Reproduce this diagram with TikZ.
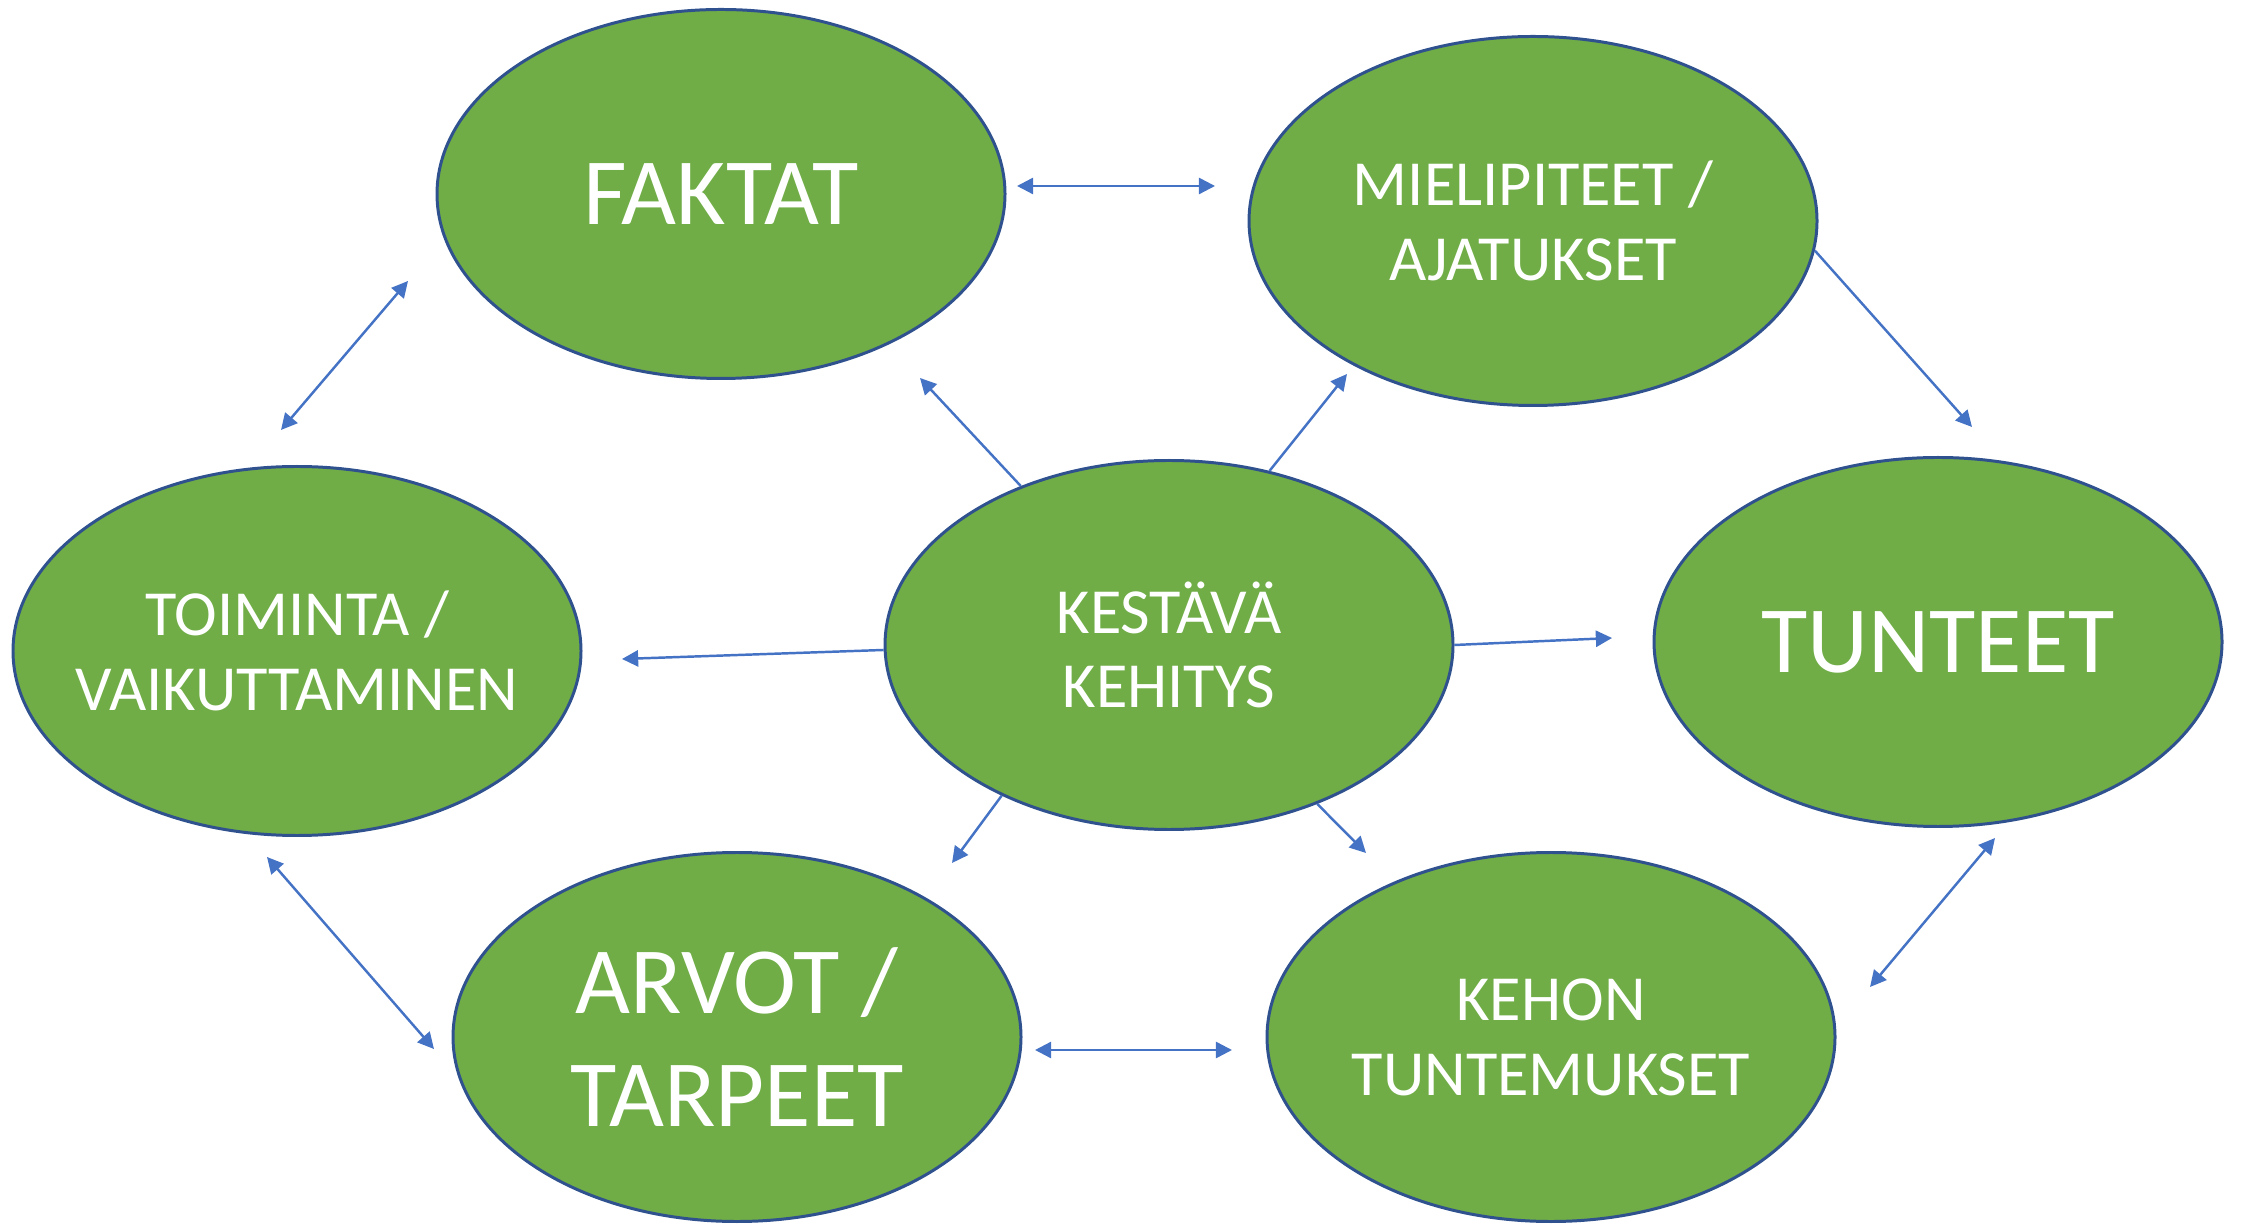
\documentclass[tikz,border=0pt]{standalone}
\usepackage{fontspec}
\setmainfont{Carlito}
\usetikzlibrary{arrows.meta,shapes.geometric}

\definecolor{ovalgreen}{HTML}{70AD47}
\definecolor{ovalline}{HTML}{2F528F}
\definecolor{linkblue}{HTML}{4472C4}

\begin{document}
\begin{tikzpicture}[
        oval/.style={ellipse, draw=ovalline, line width=0.85pt, fill=ovalgreen, text=white,
            minimum width=5.68cm, minimum height=3.69cm, inner xsep=-1.2cm, inner ysep=0pt,
            align=center},
        bigtext/.style={font=\fontsize{27}{32}\selectfont},
        smalltext/.style={font=\fontsize{18.3}{21.3}\selectfont},
        link/.style={draw=linkblue, line width=0.7pt},
        >={Triangle[length=4.6pt,width=4.6pt]}
    ]

            \useasboundingbox (0,0) rectangle (22.47,12.24);

            \node [oval, bigtext] (faktat) at (7.21,10.30) {FAKTAT};
            \node [oval, smalltext] (mielipiteet) at (15.33,10.03) {MIELIPITEET /\\AJATUKSET};
            \node [oval, smalltext] (toiminta) at (2.97,5.73) {TOIMINTA /\\VAIKUTTAMINEN};
            \node [oval, smalltext] (kestava) at (11.69,5.79) {KESTÄVÄ\\KEHITYS};
            \node [oval, bigtext] (tunteet) at (19.38,5.82) {TUNTEET};
            \node [oval, bigtext] (arvot) at (7.37,1.87) {ARVOT /\\TARPEET};
            \node [oval, smalltext] (kehon) at (15.51,1.87) {KEHON\\TUNTEMUKSET};

            \coordinate (f-m) at (10.17,10.38);
            \coordinate (m-f) at (12.15,10.38);
            \coordinate (m-t) at (19.72,7.97);
            \coordinate (t-kh) at (19.95,3.86);
            \coordinate (kh-t) at (18.70,2.37);
            \coordinate (a-kh) at (10.35,1.74);
            \coordinate (kh-a) at (12.32,1.74);
            \coordinate (to-a) at (2.67,3.67);
            \coordinate (a-to) at (4.34,1.75);
            \coordinate (to-f) at (2.81,7.94);
            \coordinate (f-to) at (4.08,9.43);

            \coordinate (ke-f) at (9.20,8.46);
            \coordinate (ke-m) at (13.47,8.50);
            \coordinate (ke-to) at (6.22,5.65);
            \coordinate (ke-t) at (16.12,5.86);
            \coordinate (ke-a) at (9.52,3.61);
            \coordinate (ke-kh) at (13.66,3.71);


            \draw [link, <->] (f-m) -- (m-f);
            \draw [link, ->] (mielipiteet.354) -- (m-t);
            \draw [link, <->] (t-kh) -- (kh-t);
            \draw [link, <->] (a-kh) -- (kh-a);
            \draw [link, <->] (to-a) -- (a-to);
            \draw [link, <->] (to-f) -- (f-to);


            \draw [link, ->] (kestava.133) -- (ke-f);
            \draw [link, ->] (kestava.60.5) -- (ke-m);
            \draw [link, ->] (kestava.181.7) -- (ke-to);
            \draw [link, ->] (kestava.0.6) -- (ke-t);
            \draw [link, ->] (kestava.222.4) -- (ke-a);
            \draw [link, ->] (kestava.313.8) -- (ke-kh);


        \end{tikzpicture}
\end{document}
